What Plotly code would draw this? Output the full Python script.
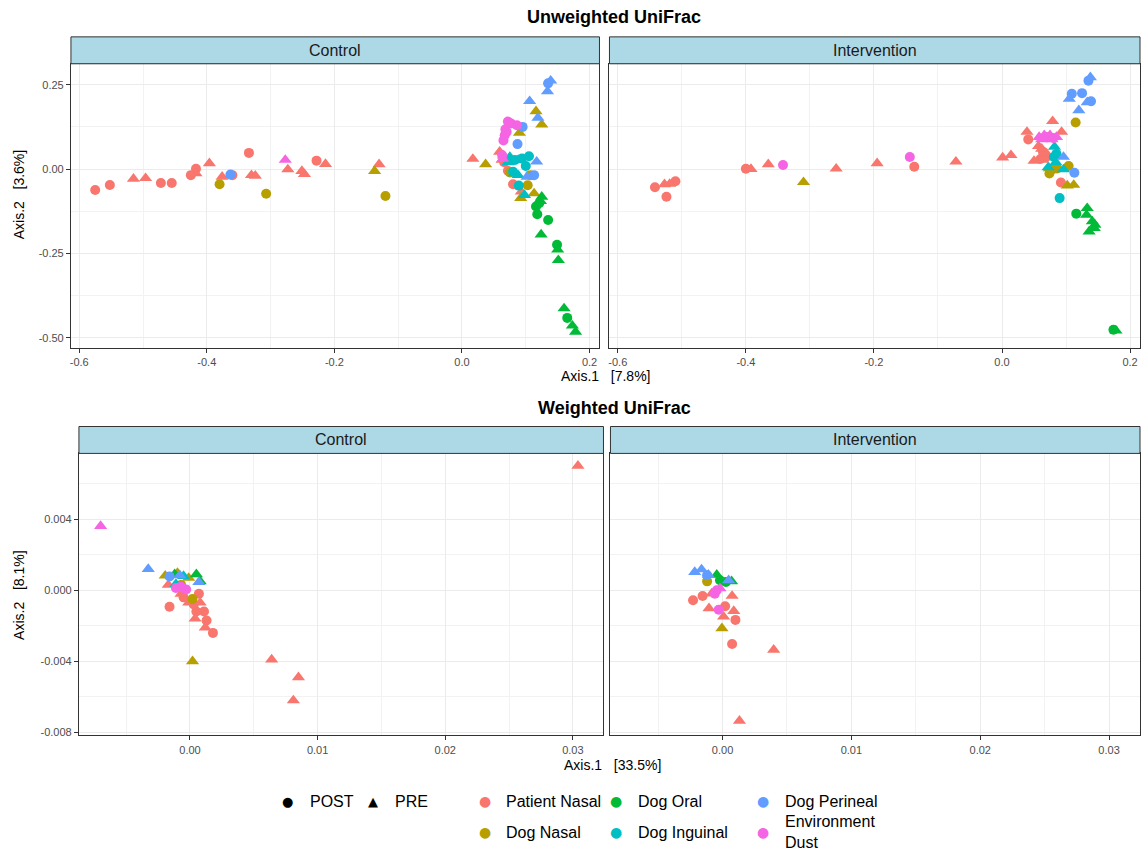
import plotly.graph_objects as go

# ---------------- data ----------------
GROUP_NAMES = {"PN": "Patient Nasal", "DN": "Dog Nasal", "DO": "Dog Oral",
               "DI": "Dog Inguinal", "DP": "Dog Perineal", "ED": "Environment Dust"}
GROUP_COLORS = {"PN": "#F8766D", "DN": "#B79F00", "DO": "#00BA38",
                "DI": "#00BFC4", "DP": "#619CFF", "ED": "#F564E3"}
TIME_SYMBOLS = {"POST": "circle", "PRE": "triangle-up"}
DRAW_ORDER = ["PN", "DN", "DO", "DI", "DP", "ED"]

# Unweighted UniFrac - Control
uc_group = (["PN"] * 12 + ["PN"] * 17 + ["DN"] * 6 + ["DN"] * 8 + ["DP"] * 5 + ["DP"] * 6 +
            ["ED"] * 8 + ["ED"] * 2 + ["DI"] * 6 + ["DI"] * 6 + ["DO"] * 6 + ["DO"] * 8)
uc_time = (["POST"] * 12 + ["PRE"] * 17 + ["POST"] * 6 + ["PRE"] * 8 + ["POST"] * 5 + ["PRE"] * 6 +
           ["POST"] * 8 + ["PRE"] * 2 + ["POST"] * 6 + ["PRE"] * 6 + ["POST"] * 6 + ["PRE"] * 8)
uc_x = [-0.575, -0.552, -0.472, -0.455, -0.425, -0.417, -0.360, -0.334, -0.228, 0.080, 0.066, 0.072,
        -0.515, -0.496, -0.417, -0.396, -0.376, -0.330, -0.324, -0.273, -0.251, -0.247, -0.214, -0.130,
        0.017, 0.059, 0.063, 0.093, 0.065,
        -0.380, -0.307, -0.120, 0.075, 0.103, 0.107,
        -0.137, 0.037, 0.090, 0.116, 0.125, 0.113, 0.092, 0.077,
        -0.363, 0.087, 0.095, 0.135, 0.113,
        0.139, 0.134, 0.106, 0.119, 0.117, 0.102,
        0.072, 0.077, 0.068, 0.067, 0.065, 0.063, 0.086, 0.070,
        -0.277, 0.064,
        0.089, 0.105, 0.100, 0.083, 0.094, 0.080,
        0.075, 0.088, 0.082, 0.098, 0.088, 0.072,
        0.116, 0.118, 0.121, 0.135, 0.149, 0.165,
        0.125, 0.124, 0.150, 0.151, 0.160, 0.173, 0.178, 0.123]
uc_y = [-0.062, -0.047, -0.041, -0.041, -0.018, 0.001, -0.018, 0.048, 0.025, -0.045, 0.020, -0.005,
        -0.029, -0.027, -0.013, 0.017, -0.023, -0.018, -0.020, -0.001, -0.006, -0.015, 0.015, 0.014,
        0.030, 0.051, 0.027, -0.067, 0.040,
        -0.045, -0.073, -0.080, -0.010, -0.048, -0.018,
        -0.006, 0.014, 0.107, 0.171, 0.132, -0.072, -0.086, 0.027,
        -0.016, 0.074, 0.125, 0.254, -0.018,
        0.262, 0.230, 0.201, 0.152, 0.022, -0.023,
        0.141, 0.135, 0.118, 0.100, 0.085, 0.041, 0.130, 0.110,
        0.027, 0.030,
        -0.049, 0.038, 0.009, 0.027, 0.031, -0.008,
        0.036, 0.027, -0.013, -0.077, -0.018, 0.020,
        -0.111, -0.134, -0.101, -0.151, -0.224, -0.441,
        -0.082, -0.194, -0.239, -0.270, -0.413, -0.464, -0.482, -0.095]

# Unweighted UniFrac - Intervention
ui_group = (["PN"] * 10 + ["PN"] * 17 + ["ED"] * 4 + ["ED"] * 6 + ["DN"] * 5 + ["DN"] * 4 +
            ["DP"] * 5 + ["DP"] * 5 + ["DI"] * 3 + ["DI"] * 4 + ["DO"] * 2 + ["DO"] * 7)
ui_time = (["POST"] * 10 + ["PRE"] * 17 + ["POST"] * 4 + ["PRE"] * 6 + ["POST"] * 5 + ["PRE"] * 4 +
           ["POST"] * 5 + ["PRE"] * 5 + ["POST"] * 3 + ["PRE"] * 4 + ["POST"] * 2 + ["PRE"] * 7)
ui_x = [-0.542, -0.524, -0.510, -0.400, -0.137, 0.041, 0.092, 0.064, 0.069, 0.060,
        -0.527, -0.519, -0.392, -0.365, -0.259, -0.195, -0.072, 0.001, 0.014, 0.039, 0.079, 0.093,
        0.057, 0.050, 0.064, 0.070, 0.062,
        -0.342, -0.144, 0.070, 0.080,
        0.058, 0.066, 0.075, 0.085, 0.062, 0.078,
        0.115, 0.074, 0.086, 0.104, 0.080,
        -0.310, 0.102, 0.112, 0.074,
        0.135, 0.109, 0.125, 0.139, 0.113,
        0.138, 0.105, 0.133, 0.120, 0.096,
        0.090, 0.081, 0.085,
        0.082, 0.096, 0.072, 0.084,
        0.116, 0.174,
        0.133, 0.141, 0.144, 0.136, 0.132, 0.178, 0.145]
ui_y = [-0.054, -0.082, -0.036, 0.001, 0.007, 0.088, -0.040, 0.051, 0.036, 0.030,
        -0.045, -0.044, 0.000, 0.014, 0.001, 0.017, 0.022, 0.034, 0.041, 0.110, 0.142, 0.110,
        0.068, 0.024, 0.027, 0.045, 0.060,
        0.012, 0.036, 0.095, 0.092,
        0.095, 0.100, 0.100, 0.095, 0.088, 0.088,
        0.138, -0.013, 0.002, 0.009, 0.000,
        -0.039, -0.049, -0.047, 0.002,
        0.262, 0.223, 0.225, 0.201, -0.011,
        0.272, 0.208, 0.198, 0.174, 0.036,
        -0.086, 0.036, 0.045,
        0.066, -0.001, 0.005, 0.020,
        -0.132, -0.476,
        -0.116, -0.155, -0.175, -0.185, -0.136, -0.479, -0.165]

# Weighted UniFrac - Control
wc_group = (["PN"] * 8 + ["PN"] * 10 + ["DN"] * 2 + ["DN"] * 4 + ["DO"] * 3 + ["DI"] * 2 +
            ["DP"] * 1 + ["DP"] * 3 + ["ED"] * 3 + ["ED"] * 1)
wc_time = (["POST"] * 8 + ["PRE"] * 10 + ["POST"] * 2 + ["PRE"] * 4 + ["PRE"] * 3 + ["PRE"] * 2 +
           ["POST"] * 1 + ["PRE"] * 3 + ["POST"] * 3 + ["PRE"] * 1)
wc_x = [-0.0016, 0.0005, 0.0011, 0.0013, 0.0018, 0.0007, 0.0003, -0.0005,
        -0.0017, 0.0004, 0.0012, 0.0008, -0.0001, -0.0007, 0.0304, 0.0064, 0.0085, 0.0081,
        -0.0007, 0.0002,
        -0.00194, -0.00098, -0.0001, 0.0002,
        -0.0012, 0.0005, 0.0008,
        -0.0005, -0.0011,
        -0.0016,
        -0.00327, -0.0008, 0.0007,
        -0.0011, -0.0003, -0.0007,
        -0.0070]
wc_y = [-0.00093, -0.0012, -0.0012, -0.0017, -0.0024, -0.0002, -0.0008, -0.0004,
        0.0003, -0.0016, -0.0021, -0.0007, -0.0007, -0.0002, 0.0070, -0.0039, -0.0049, -0.0062,
        0.0003, -0.0005,
        0.00082, 0.00097, 0.00069, -0.0040,
        0.0009, 0.0009, 0.0005,
        0.0008, 0.00035,
        0.00078,
        0.00119, 0.00084, 0.00046,
        0.00013, 0.00004, 0.0002,
        0.00361]

# Weighted UniFrac - Intervention
wi_group = (["PN"] * 5 + ["PN"] * 7 + ["DN"] * 1 + ["DN"] * 1 + ["DO"] * 2 + ["DO"] * 2 +
            ["DP"] * 1 + ["DP"] * 4 + ["ED"] * 3 + ["ED"] * 1)
wi_time = (["POST"] * 5 + ["PRE"] * 7 + ["POST"] * 1 + ["PRE"] * 1 + ["POST"] * 2 + ["PRE"] * 2 +
           ["POST"] * 1 + ["PRE"] * 4 + ["POST"] * 3 + ["PRE"] * 1)
wi_x = [-0.00229, -0.00155, 0.0010, 0.00074, 0.0002,
        -0.00105, 0.00008, 0.00087, 0.00074, -0.00084, 0.00397, 0.00131,
        -0.0012,
        -0.00005,
        0.00026, -0.0002,
        -0.00045, 0.0007,
        -0.0012,
        -0.00216, -0.00163, -0.0011, 0.00047,
        -0.0003, -0.00045, -0.0006,
        -0.0002]
wi_y = [-0.00056, -0.00032, -0.00167, -0.00303, -0.0009,
        -0.00102, -0.00149, -0.00117, -0.00032, -0.00019, -0.00335, -0.00735,
        0.0005,
        -0.00214,
        0.00047, 0.00056,
        0.00087, 0.0005,
        0.00084,
        0.00102, 0.00117, 0.00087, 0.00056,
        -0.0011, 0.0, -0.0002,
        0.0001]

# tick labels
uw_xticks = [-0.6, -0.4, -0.2, 0.0, 0.2]
uw_xticktext = ["-0.6", "-0.4", "-0.2", "0.0", "0.2"]
uw_xminor = [-0.5, -0.3, -0.1, 0.1]
uw_yticks = [0.25, 0.0, -0.25, -0.5]
uw_yticktext = ["0.25", "0.00", "-0.25", "-0.50"]
uw_yminor = [0.125, -0.125, -0.375]
w_xticks = [0.0, 0.01, 0.02, 0.03]
w_xticktext = ["0.00", "0.01", "0.02", "0.03"]
w_xminor = [-0.005, 0.005, 0.015, 0.025]
w_yticks = [0.004, 0.0, -0.004, -0.008]
w_yticktext = ["0.004", "0.000", "-0.004", "-0.008"]
w_yminor = [0.006, 0.002, -0.002, -0.006]

# ---------------- figure ----------------
W, H = 1144, 857
FONT = "Liberation Sans, Arial, sans-serif"


def fx(px):
    return px / W


def fy(py):
    return 1 - py / H


fig = go.Figure()

panels = [
    (uc_x, uc_y, uc_group, uc_time, "x", "y"),
    (ui_x, ui_y, ui_group, ui_time, "x2", "y2"),
    (wc_x, wc_y, wc_group, wc_time, "x3", "y3"),
    (wi_x, wi_y, wi_group, wi_time, "x4", "y4"),
]
for xs, ys, gs, ts, xa, ya in panels:
    for g in DRAW_ORDER:
        for t in ["POST", "PRE"]:
            px = [x for x, gg, tt in zip(xs, gs, ts) if gg == g and tt == t]
            py = [y for y, gg, tt in zip(ys, gs, ts) if gg == g and tt == t]
            if not px:
                continue
            fig.add_trace(go.Scatter(
                x=px, y=py, mode="markers", xaxis=xa, yaxis=ya, showlegend=False,
                marker=dict(color=GROUP_COLORS[g], symbol=TIME_SYMBOLS[t],
                            size=10 if t == "POST" else 11.5, line=dict(width=0)),
                hoverinfo="skip"))

common = dict(showgrid=True, gridcolor="#EBEBEB", gridwidth=1, zeroline=False,
              showline=True, linecolor="#333333", linewidth=1, mirror=True,
              ticks="outside", ticklen=4, tickcolor="#333333",
              tickfont=dict(size=11, color="#4D4D4D", family=FONT), tickmode="array")


def minor(vals):
    return dict(tickmode="array", tickvals=vals, showgrid=True, gridcolor="#F2F2F2",
                gridwidth=0.6, ticks="")


uw_xr = [-0.613, 0.2155]
uw_yr = [-0.5295, 0.312]
w_xr = [-0.0087, 0.0324]
w_yr = [-0.00817, 0.0077]

top_y = [fy(349), fy(64)]
bot_y = [fy(738), fy(455)]

fig.update_layout(
    xaxis=dict(common, domain=[fx(70), fx(599)], range=uw_xr, anchor="y",
               tickvals=uw_xticks, ticktext=uw_xticktext, minor=minor(uw_xminor)),
    yaxis=dict(common, domain=top_y, range=uw_yr, anchor="x",
               tickvals=uw_yticks, ticktext=uw_yticktext, minor=minor(uw_yminor)),
    xaxis2=dict(common, domain=[fx(609), fx(1140)], range=uw_xr, anchor="y2",
                tickvals=uw_xticks, ticktext=uw_xticktext, minor=minor(uw_xminor)),
    yaxis2=dict(common, domain=top_y, range=uw_yr, anchor="x2",
                tickvals=uw_yticks, ticktext=uw_yticktext, minor=minor(uw_yminor),
                showticklabels=False, ticks=""),
    xaxis3=dict(common, domain=[fx(78), fx(603)], range=w_xr, anchor="y3",
                tickvals=w_xticks, ticktext=w_xticktext, minor=minor(w_xminor)),
    yaxis3=dict(common, domain=bot_y, range=w_yr, anchor="x3",
                tickvals=w_yticks, ticktext=w_yticktext, minor=minor(w_yminor)),
    xaxis4=dict(common, domain=[fx(610), fx(1140)], range=w_xr, anchor="y4",
                tickvals=w_xticks, ticktext=w_xticktext, minor=minor(w_xminor)),
    yaxis4=dict(common, domain=bot_y, range=w_yr, anchor="x4",
                tickvals=w_yticks, ticktext=w_yticktext, minor=minor(w_yminor),
                showticklabels=False, ticks=""),
    width=W, height=H, autosize=False,
    margin=dict(l=0, r=0, t=0, b=0),
    paper_bgcolor="white", plot_bgcolor="white",
    font=dict(family=FONT, color="#000000"),
    showlegend=False,
)

shapes = []
annotations = []

# strips
strips = [
    (70, 599, 37, 64, "Control"), (609, 1140, 37, 64, "Intervention"),
    (78, 603, 428, 455, "Control"), (610, 1140, 428, 455, "Intervention"),
]
for x0, x1, y0, y1, label in strips:
    shapes.append(dict(type="rect", xref="paper", yref="paper", x0=fx(x0), x1=fx(x1),
                       y0=fy(y1), y1=fy(y0), fillcolor="#ADD8E6",
                       line=dict(color="#333333", width=1), layer="above"))
    annotations.append(dict(xref="paper", yref="paper", x=fx((x0 + x1) / 2), y=fy((y0 + y1) / 2),
                            text=label, showarrow=False, xanchor="center", yanchor="middle",
                            font=dict(size=16, color="#1A1A1A", family=FONT)))

# titles
for txt, y in [("<b>Unweighted UniFrac</b>", 17), ("<b>Weighted UniFrac</b>", 409)]:
    annotations.append(dict(xref="paper", yref="paper", x=fx(614), y=fy(y), text=txt,
                            showarrow=False, xanchor="center", yanchor="middle",
                            font=dict(size=18, color="#000000", family=FONT)))

# axis titles
for txt, x, y in [("Axis.1   [7.8%]", 605, 377), ("Axis.1   [33.5%]", 612, 768)]:
    annotations.append(dict(xref="paper", yref="paper", x=fx(x), y=fy(y), text=txt,
                            showarrow=False, xanchor="center", yanchor="middle",
                            font=dict(size=14, color="#000000", family=FONT)))
for txt, y in [("Axis.2   [3.6%]", 195), ("Axis.2   [8.1%]", 597)]:
    annotations.append(dict(xref="paper", yref="paper", x=fx(18), y=fy(y), text=txt,
                            showarrow=False, xanchor="center", yanchor="middle", textangle=-90,
                            font=dict(size=14, color="#000000", family=FONT)))

# legend (shape)
leg_font = dict(size=16, color="#000000", family=FONT)
for sym, label, xs, xl in [("●", "POST", 287, 307), ("▲", "PRE", 372, 392)]:
    annotations.append(dict(xref="paper", yref="paper", x=fx(xs), y=fy(804), text=sym,
                            showarrow=False, xanchor="center", yanchor="middle",
                            font=dict(size=13, color="#000000", family="DejaVu Sans")))
    annotations.append(dict(xref="paper", yref="paper", x=fx(xl), y=fy(804), text=label,
                            showarrow=False, xanchor="left", yanchor="middle", font=leg_font))

# legend (colour)
legend_cols = [(484, 503), (616, 636), (763, 783)]
legend_rows = [804, 835]
for i, g in enumerate(["PN", "DN", "DO", "DI", "DP", "ED"]):
    col, row = divmod(i, 2)
    xd, xl = legend_cols[col]
    y = legend_rows[row]
    annotations.append(dict(xref="paper", yref="paper", x=fx(xd), y=fy(y), text="●",
                            showarrow=False, xanchor="center", yanchor="middle",
                            font=dict(size=14, color=GROUP_COLORS[g], family="DejaVu Sans")))
    label = GROUP_NAMES[g].replace("Environment Dust", "Environment<br>Dust")
    annotations.append(dict(xref="paper", yref="paper", x=fx(xl), y=fy(y), text=label,
                            showarrow=False, xanchor="left", yanchor="middle", align="left",
                            font=leg_font))

fig.update_layout(shapes=shapes, annotations=annotations)
fig.write_html("out.html")
